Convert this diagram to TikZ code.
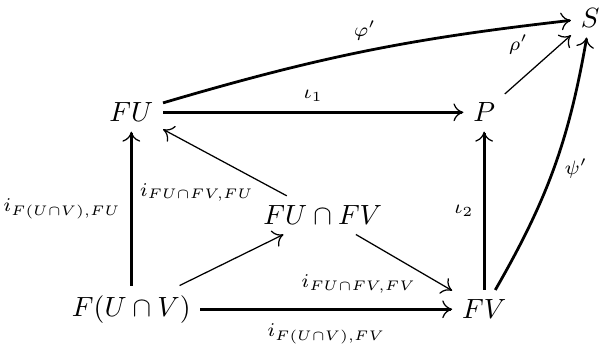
\documentclass[tikz,border=0pt]{standalone}
\usepackage{amsmath,amssymb}
\usepackage{tikz}
\usetikzlibrary{arrows.meta}

\begin{document}
\begin{tikzpicture}[>={To[length=3.6pt,width=6.4pt,line width=0.45pt]},
  mor/.style={->,line width=1pt},
  incl/.style={->,line width=0.45pt},
  lab/.style={font=\scriptsize}]
\useasboundingbox (0,0) rectangle (7.61,4.40);
% objects
\node (FU) at (1.66,2.98) {$FU$};
\node (P) at (6.12,2.98) {$P$};
\node (S) at (7.46,4.17) {$S$};
\node (FUFV) at (4.08,1.68) {$FU\cap FV$};
\node (FUV) at (1.66,0.49) {$F(U\cap V)$};
\node (FV) at (6.12,0.49) {$FV$};
% the square
\draw[mor] (FU) -- (P) node[lab,midway,above]{$\iota_1$};
\draw[mor] (FV) -- (P) node[lab,midway,left]{$\iota_2$};
\draw[mor] (FUV) -- (FU) node[lab,midway,left]{$i_{F(U\cap V),FU}$};
\draw[mor] (FUV) -- (FV) node[lab,midway,below,yshift=-1.5pt]{$i_{F(U\cap V),FV}$};
% through the intersection
\draw[incl] (FUV) -- (FUFV);
\draw[incl] (FUFV) -- (FU) node[lab,pos=0.24,below left,inner sep=1pt]{$i_{FU\cap FV,FU}$};
\draw[incl] (FUFV) -- (FV) node[lab,pos=0.66,below left,inner sep=1pt]{$i_{FU\cap FV,FV}$};
% maps into S
\draw[incl] (P) -- (S) node[lab,midway,above left]{$\rho'$};
\draw[mor] (FU) to[bend left=5] node[lab,midway,above]{$\varphi'$} (S);
\draw[mor] (FV) to[bend right=10] node[lab,midway,right]{$\psi'$} (S);
\end{tikzpicture}
\end{document}
